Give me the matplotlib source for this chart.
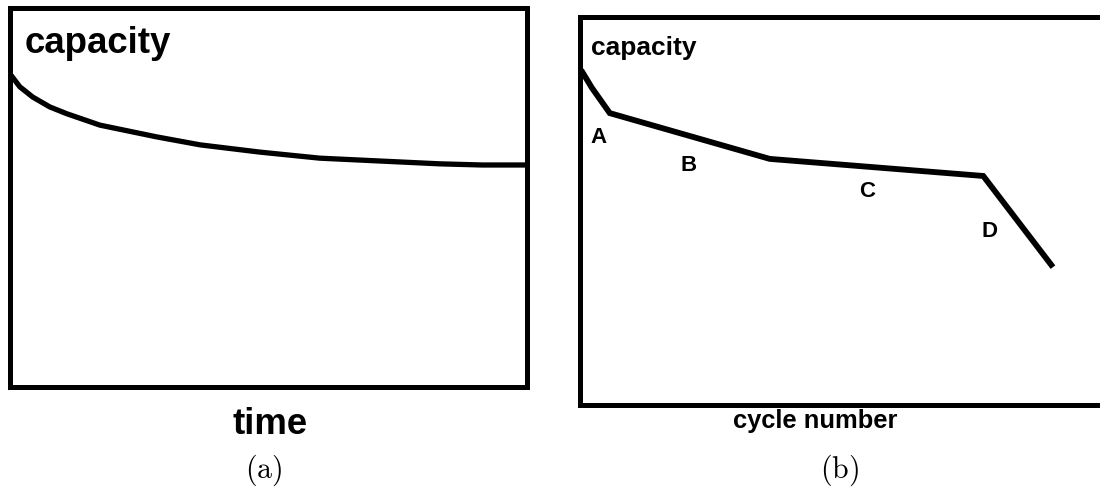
import matplotlib
matplotlib.use("Agg")
import matplotlib.pyplot as plt

# (a) capacity fade over time
time_a = [0, 1.9, 4.4, 7.7, 11.0, 17.4, 28.4, 36.8, 48.3, 59.9, 83.2, 91.3, 100]
cap_a = [82.5, 79.1, 76.4, 73.8, 72.0, 69.0, 65.9, 63.8, 61.9, 60.3, 58.8, 58.5, 58.5]

# (b) capacity versus cycle number, with stages A-D
cycle_b = [0.3, 2.3, 5.6, 35.2, 74.7, 87.6]
cap_b = [86.2, 81.6, 75.1, 63.3, 58.9, 35.4]
stage_labels = ["A", "B", "C", "D"]
stage_x = [3.6, 20.1, 53.2, 75.9]
stage_y = [68.7, 61.7, 54.8, 44.5]

W, H = 1100, 488
fig = plt.figure(figsize=(W / 100, H / 100), dpi=100)
bold = dict(family="Liberation Sans", fontweight="bold", color="black")


def px_axes(left, top, right, bottom):
    return fig.add_axes([left / W, 1 - bottom / H, (right - left) / W, (bottom - top) / H])


def style(ax):
    ax.set_xlim(0, 100)
    ax.set_ylim(0, 100)
    ax.set_xticks([])
    ax.set_yticks([])
    for s in ax.spines.values():
        s.set_linewidth(3.6)
        s.set_color("black")
        s.set_capstyle("projecting")


ax1 = px_axes(10, 7.5, 527, 387)
style(ax1)
ax1.plot(time_a, cap_a, color="black", lw=3.8, solid_joinstyle="round", solid_capstyle="butt")
ax1.text(2.9, 88.0, "capacity", fontsize=26.4, va="baseline", ha="left", **bold)

ax2 = px_axes(579.5, 16.5, 1120, 404.5)
style(ax2)
ax2.plot(cycle_b, cap_b, color="black", lw=4.2, solid_joinstyle="miter", solid_capstyle="butt")
ax2.text(2.1, 90.0, "capacity", fontsize=19, va="baseline", ha="left", **bold)
for lab, x, y in zip(stage_labels, stage_x, stage_y):
    ax2.text(x, y, lab, fontsize=16, ha="center", va="center", **bold)

fig.text(270 / W, 1 - 434 / H, "time", fontsize=26.4, ha="center", va="baseline", **bold)
fig.text(815 / W, 1 - 428 / H, "cycle number", fontsize=18.4, ha="center", va="baseline", **bold)

plt.rcParams["mathtext.fontset"] = "cm"
fig.text(264 / W, 1 - 478 / H, r"$\mathrm{(a)}$", fontsize=21.5, ha="center", va="baseline")
fig.text(839 / W, 1 - 478 / H, r"$\mathrm{(b)}$", fontsize=21.5, ha="center", va="baseline")

fig.savefig("out.png", dpi=100, facecolor="white")
